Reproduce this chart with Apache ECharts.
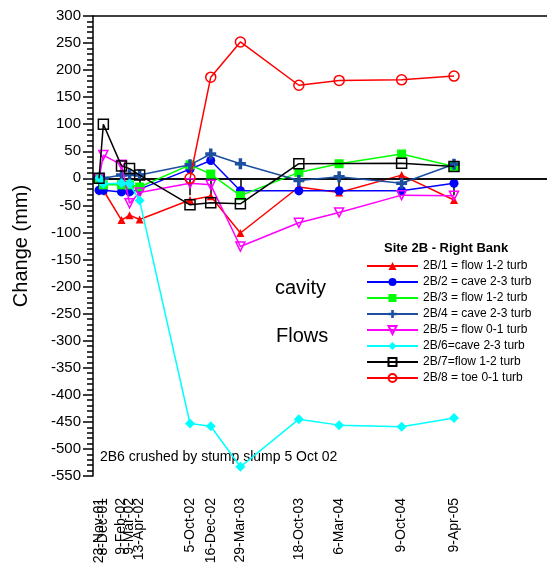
<!DOCTYPE html>
<html><head><meta charset="utf-8">
<script src="https://cdn.jsdelivr.net/npm/echarts@6/dist/echarts.min.js"></script>
<style>html,body{margin:0;padding:0;background:#fff}#c{width:547px;height:570px}</style>
</head><body><div id="c"></div>
<script>
// survey dates (tick labels) and their ISO dates
const dateLabels = ['23-Nov-01','8-Dec-01','9-Feb-02','9-Mar-02','13-Apr-02','5-Oct-02','16-Dec-02','29-Mar-03','18-Oct-03','6-Mar-04','9-Oct-04','9-Apr-05'];
const dateISO    = ['2001-11-23','2001-12-08','2002-02-09','2002-03-09','2002-04-13','2002-10-05','2002-12-16','2003-03-29','2003-10-18','2004-03-06','2004-10-09','2005-04-09'];
const xMinISO = '2001-11-02';
const xMaxISO = '2006-02-26';

const seriesNames = ['2B/1 = flow 1-2 turb','2B/2 = cave 2-3 turb','2B/3 = flow 1-2 turb','2B/4 = cave 2-3 turb','2B/5 = flow 0-1 turb','2B/6=cave 2-3 turb','2B/7=flow 1-2 turb','2B/8 = toe 0-1 turb'];
const s2B1 = [0, -22, -77, -68, -76, -40, -33, -101, -16, -26, 6, -40];
const s2B2 = [-22, -22, -25, -25, -20, 17, 33, -23, -23, -23, -23, -9];
const s2B3 = [0, -12, -12, -12, -16, 25, 8, -32, 11, 27, 45, 22];
const s2B4 = [0, 0, 6, 7, 6, 25, 45, 27, -4, 3, -9, 26];
const s2B5 = [0, 43, 25, -46, -26, -9, -12, -126, -82, -63, -31, -32];
const s2B6 = [0, -10, -9, -10, -41, -453, -458, -533, -445, -456, -459, -443];
const s2B7 = [0, 100, 23, 18, 6, -49, -45, -47, 27, null, 28, 22];
const s2B8 = [null, null, null, null, null, 0, 187, 252, 172, 181, 182, 189];

const yTicks = [-550, 300, 50];

function ts(iso){ const p = iso.split('-').map(Number); return Date.UTC(p[0], p[1]-1, p[2]); }
const xs = dateISO.map(ts);
const labelMap = {}; xs.forEach((t,i)=>labelMap[t]=dateLabels[i]);
const xsMain = xs.filter((_,i)=>i!==1);
const xsExtra = [xs[1]];

const FONT = '"Liberation Sans", Arial, sans-serif';
const plusPath = 'path://M3.4,0H6.6V3.4H10V6.6H6.6V10H3.4V6.6H0V3.4H3.4Z';
const styles = [
  {color:'#ff0000', symbol:'triangle', size:8, fill:true},
  {color:'#0000ff', symbol:'circle', size:9, fill:true},
  {color:'#00ff00', symbol:'rect', size:9, fill:true},
  {color:'#1c4fa0', symbol:plusPath, size:11, fill:true},
  {color:'#ff00ff', symbol:'triangle', size:9, fill:false, rotate:180},
  {color:'#00ffff', symbol:'diamond', size:10, fill:true},
  {color:'#000000', symbol:'rect', size:10, fill:false},
  {color:'#ff0000', symbol:'circle', size:10, fill:false}
];
const allVals = [s2B1,s2B2,s2B3,s2B4,s2B5,s2B6,s2B7,s2B8];

const series = allVals.map((vals,i)=>{
  const st = styles[i];
  return {
    name: seriesNames[i], type:'line', connectNulls:true,
    xAxisIndex:0, yAxisIndex:0,
    data: xs.map((x,j)=>[x, vals[j]]),
    symbol: st.symbol, symbolSize: st.size, symbolRotate: st.rotate||0,
    showAllSymbol:true,
    lineStyle:{color:st.color, width:1.5},
    itemStyle: st.fill ? {color:st.color} : {color:'rgba(255,255,255,0)', borderColor:st.color, borderWidth:1.5},
    color: st.color,
    z: 3 + i
  };
});
series[0].markLine = {silent:true, symbol:'none', label:{show:false}, data:[{yAxis:0}], lineStyle:{color:'#000', width:1.5, type:'solid'}};

const labelBase = {rotate:90, margin:22, fontSize:14, color:'#000', fontFamily:FONT,
  showMinLabel:true, showMaxLabel:true, hideOverlap:false, formatter:v=>labelMap[v]||''};

const chart = echarts.init(document.getElementById('c'), null, {renderer:'canvas'});
chart.setOption({
  animation:false,
  backgroundColor:'#fff',
  textStyle:{fontFamily:FONT},
  grid:{left:93, top:16, right:0, bottom:94},
  title:{text:'Site 2B - Right Bank', left:384, top:242, padding:0, textStyle:{fontSize:13, fontWeight:'bold', color:'#000', fontFamily:FONT}},
  legend:{orient:'vertical', left:366, top:260, padding:0, itemWidth:51, itemHeight:10, itemGap:4,
    textStyle:{fontSize:12, color:'#000', fontFamily:FONT}, data:seriesNames},
  xAxis:[{type:'value', min:ts(xMinISO), max:ts(xMaxISO),
    axisLine:{lineStyle:{color:'#000', width:1.5}},
    axisTick:{show:true, length:17, lineStyle:{color:'#000', width:1.5}, customValues:xs},
    axisLabel:Object.assign({customValues:xsMain}, labelBase),
    splitLine:{show:false}},
    {type:'value', position:'top', min:ts(xMinISO), max:ts(xMaxISO),
    axisLine:{show:true, lineStyle:{color:'#000', width:1.5}},
    axisTick:{show:false}, axisLabel:{show:false}, splitLine:{show:false}},
    {type:'value', position:'bottom', min:ts(xMinISO), max:ts(xMaxISO),
    axisLine:{show:false}, axisTick:{show:false}, splitLine:{show:false},
    axisLabel:Object.assign({customValues:xsExtra}, labelBase)}],
  yAxis:{type:'value', min:yTicks[0], max:yTicks[1], interval:yTicks[2],
    name:'Change (mm)', nameLocation:'middle', nameGap:62, nameTextStyle:{fontSize:20, color:'#000', fontFamily:FONT},
    axisLine:{lineStyle:{color:'#000', width:1.5}},
    axisTick:{length:10, lineStyle:{color:'#000', width:1.5}},
    minorTick:{show:true, splitNumber:5, length:6, lineStyle:{color:'#000', width:1.5}},
    axisLabel:{fontSize:15, color:'#000', margin:12, fontFamily:FONT},
    splitLine:{show:false}},
  graphic:[
    {type:'text', left:275, top:278, style:{text:'cavity', fontSize:20, fill:'#000', fontFamily:FONT}},
    {type:'text', left:276, top:326, style:{text:'Flows', fontSize:20, fill:'#000', fontFamily:FONT}},
    {type:'text', left:100, top:450, style:{text:'2B6 crushed by stump slump 5 Oct 02', fontSize:14, fill:'#000', fontFamily:FONT}}
  ],
  series: series
});
</script></body></html>
